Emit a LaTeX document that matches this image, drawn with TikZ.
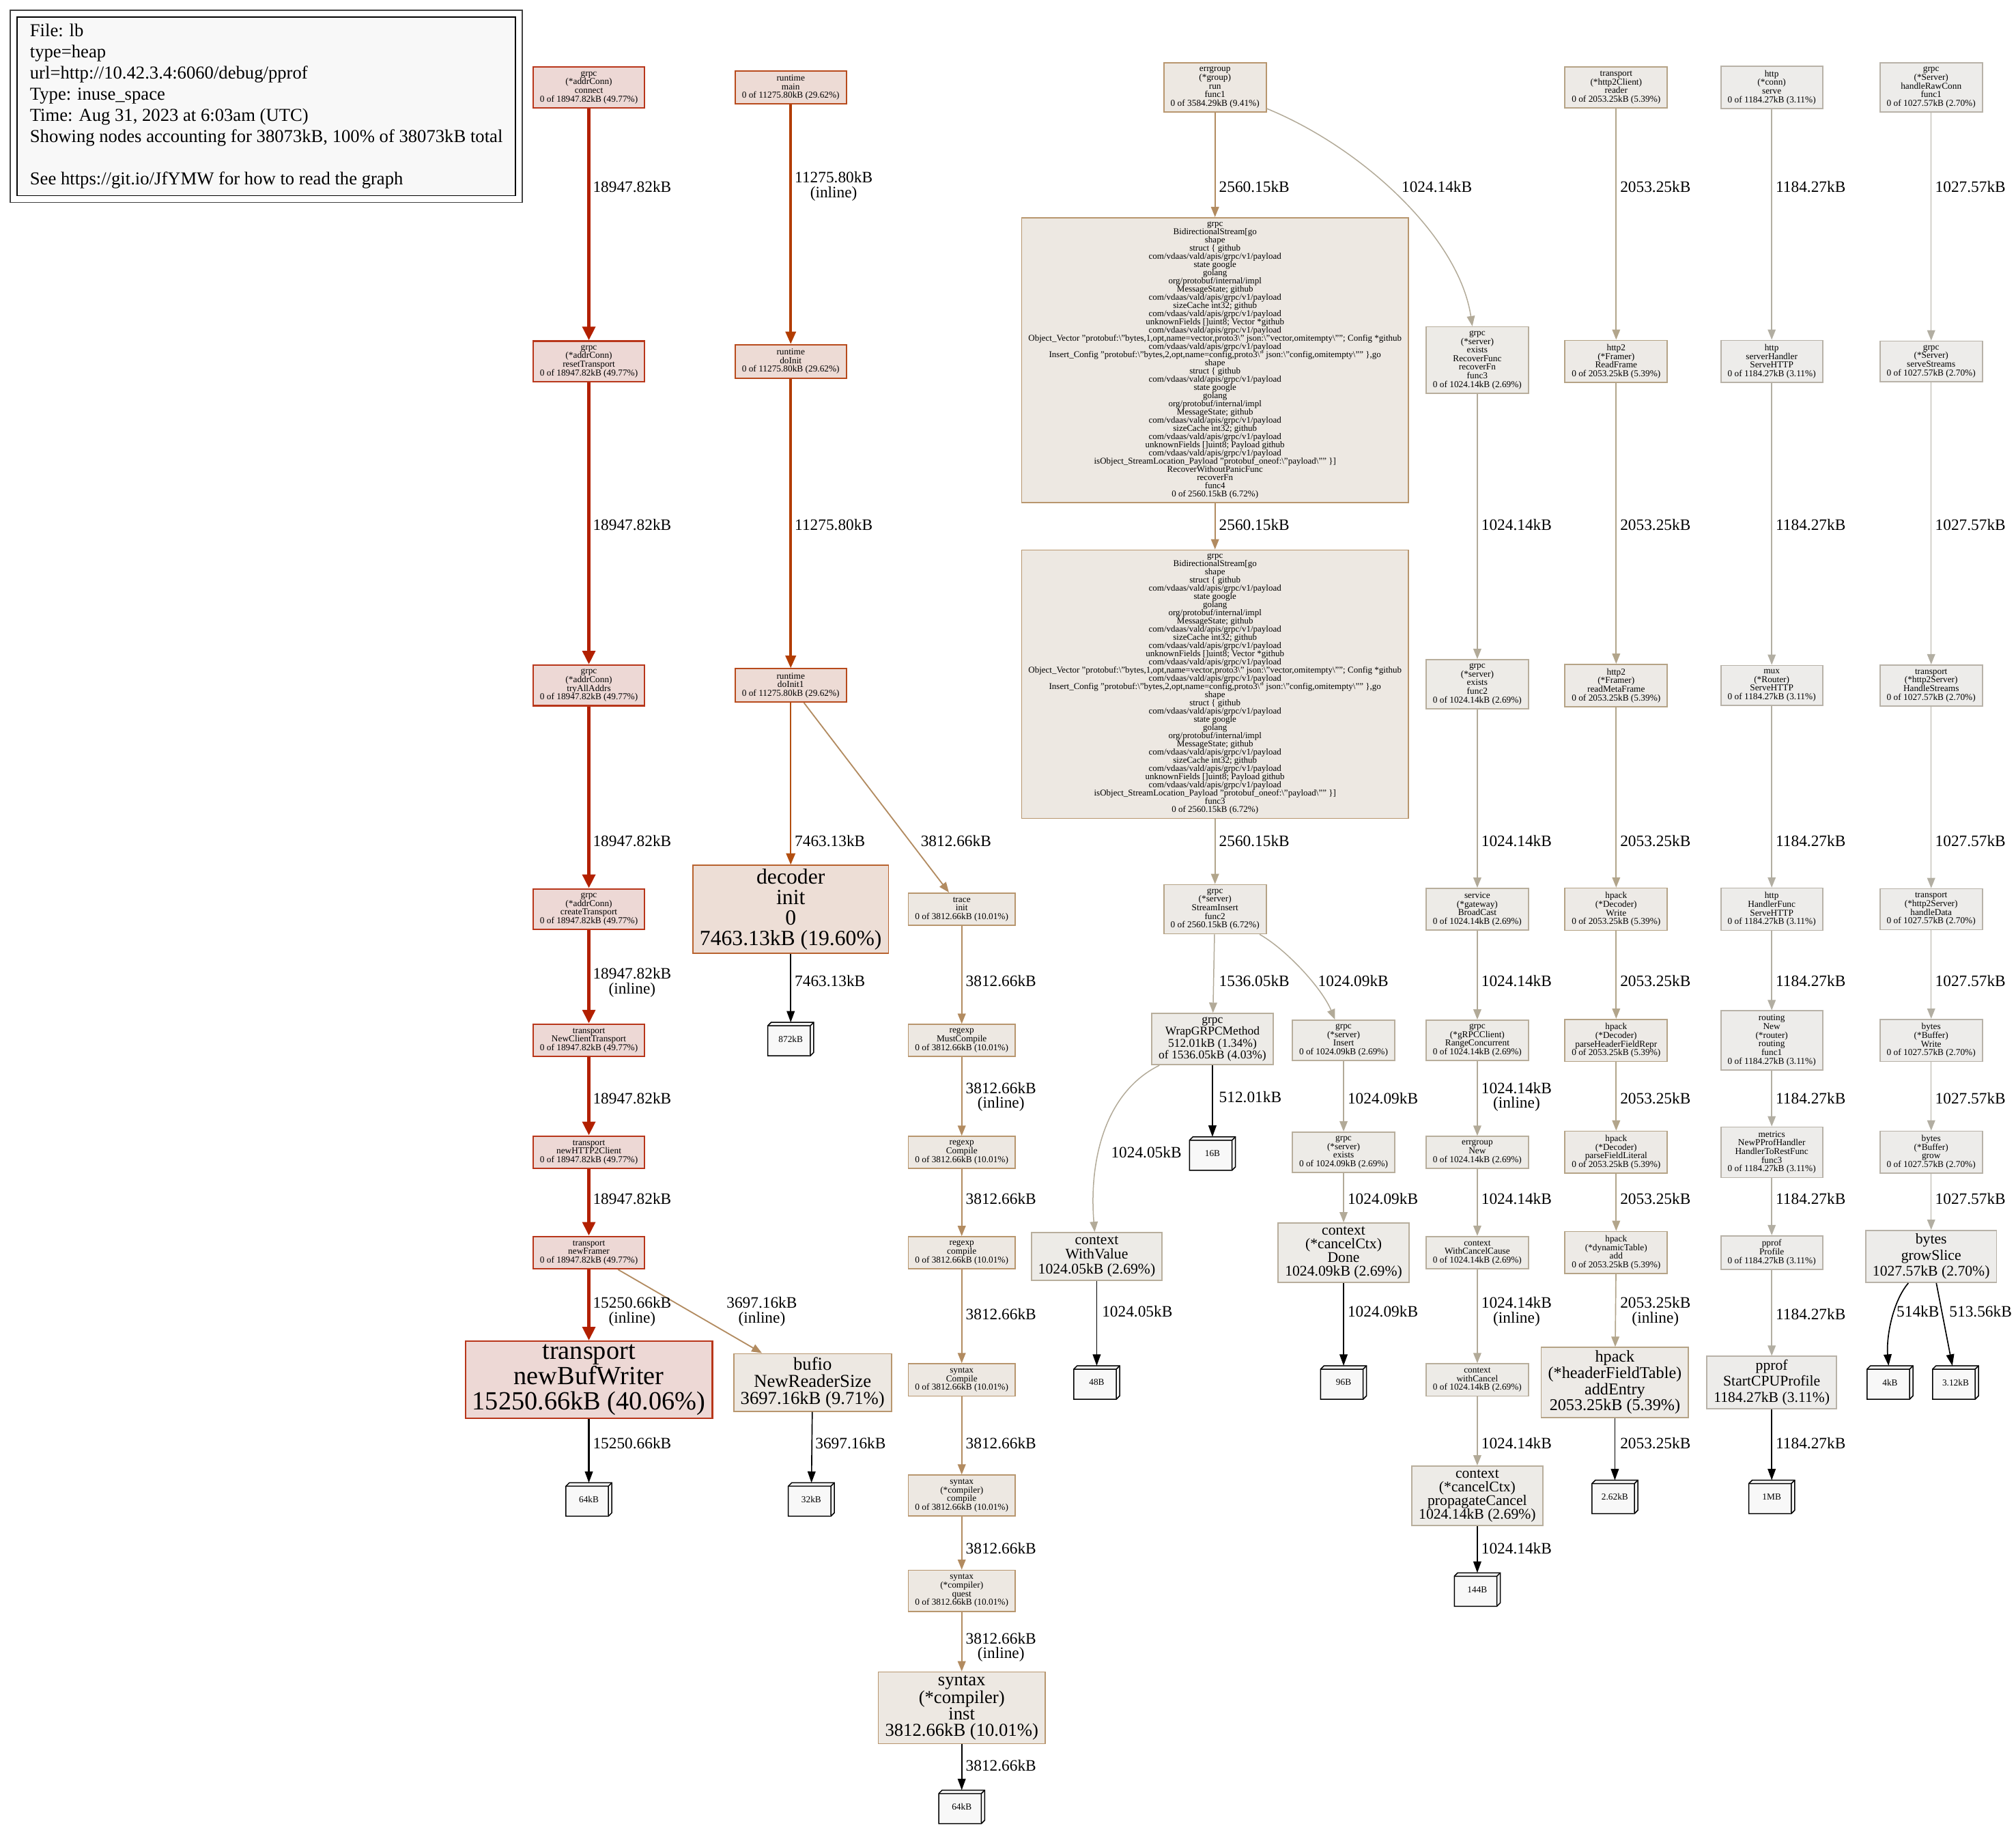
\documentclass[tikz,border=0pt]{standalone}
\usepackage{fontspec}
\setmainfont{Liberation Serif}
\usetikzlibrary{arrows.meta, backgrounds}

\definecolor{chotfill}{HTML}{EDD8D5}
\definecolor{chotline}{HTML}{B8361A}
\definecolor{chotedge}{HTML}{B22000}
\definecolor{cwarmfill}{HTML}{EDDBD5}
\definecolor{cwarmline}{HTML}{B84A1C}
\definecolor{cwarmedge}{HTML}{B23C00}
\definecolor{cdecfill}{HTML}{EDDED6}
\definecolor{cdecline}{HTML}{B8622E}
\definecolor{cdecedge}{HTML}{B24E10}
\definecolor{ctanfill}{HTML}{EDE8E2}
\definecolor{ctanline}{HTML}{B8966E}
\definecolor{ctanedge}{HTML}{B28B60}
\definecolor{cmidfill}{HTML}{EDEAE6}
\definecolor{cmidline}{HTML}{B5A386}
\definecolor{cmidedge}{HTML}{B2A58B}
\definecolor{cashfill}{HTML}{EDEBE7}
\definecolor{cashline}{HTML}{B8AE9C}
\definecolor{cashedge}{HTML}{B2AA98}
\definecolor{cpalefill}{HTML}{EDECEA}
\definecolor{cpaleline}{HTML}{B8B2A8}
\definecolor{cpaleedge}{HTML}{B2AEA2}
\definecolor{cblock}{HTML}{F8F8F8}

% shared payload type text of the two BidirectionalStream frames
\newcommand{\bidirtype}{shape\\struct \{ github\\com/vdaas/vald/apis/grpc/v1/payload\\state google\\golang\\org/protobuf/internal/impl\\MessageState; github\\com/vdaas/vald/apis/grpc/v1/payload\\sizeCache int32; github\\com/vdaas/vald/apis/grpc/v1/payload\\unknownFields []uint8; Vector *github\\com/vdaas/vald/apis/grpc/v1/payload\\Object\_Vector "protobuf:\textbackslash"bytes,1,opt,name=vector,proto3\textbackslash" json:\textbackslash"vector,omitempty\textbackslash""; Config *github\\com/vdaas/vald/apis/grpc/v1/payload\\Insert\_Config "protobuf:\textbackslash"bytes,2,opt,name=config,proto3\textbackslash" json:\textbackslash"config,omitempty\textbackslash"" \},go\\shape\\struct \{ github\\com/vdaas/vald/apis/grpc/v1/payload\\state google\\golang\\org/protobuf/internal/impl\\MessageState; github\\com/vdaas/vald/apis/grpc/v1/payload\\sizeCache int32; github\\com/vdaas/vald/apis/grpc/v1/payload\\unknownFields []uint8; Payload github\\com/vdaas/vald/apis/grpc/v1/payload\\isObject\_StreamLocation\_Payload "protobuf\_oneof:\textbackslash"payload\textbackslash"" \}]}

% 3d memory block: name, position, size text
\newcommand{\memblk}[3]{%
  \node[memblk] (#1) at (#2) {#3};
  \begin{pgfonlayer}{background}
    \filldraw[memface] (#1.south west) -- ([yshift=-3pt]#1.north west) -- ([xshift=3pt]#1.north west)
      -- (#1.north east) -- ([yshift=3pt]#1.south east) -- ([xshift=-3pt]#1.south east) -- cycle;
    \draw[memface] ([yshift=-3pt]#1.north west) -- ([shift={(-3pt,-3pt)}]#1.north east)
      -- ([xshift=-3pt]#1.south east) ([shift={(-3pt,-3pt)}]#1.north east) -- (#1.north east);
  \end{pgfonlayer}}

\begin{document}
\begin{tikzpicture}[
  x=1.13pt, y=-1.13pt,
  fn/.style={rectangle, draw, line width=1pt, align=center, inner xsep=6pt, inner ysep=3.5pt,
    font=\fontsize{8}{7.6}\selectfont},
  hot/.style={fn, draw=chotline, fill=chotfill, line width=1.3pt},
  warm/.style={fn, draw=cwarmline, fill=cwarmfill, line width=1.2pt},
  tan/.style={fn, draw=ctanline, fill=ctanfill},
  mid/.style={fn, draw=cmidline, fill=cmidfill},
  ash/.style={fn, draw=cashline, fill=cashfill},
  pale/.style={fn, draw=cpaleline, fill=cpalefill},
  bigtxt/.style 2 args={font=\fontsize{#1}{#2}\selectfont, inner xsep=6pt, inner ysep=3pt},
  memblk/.style={rectangle, minimum width=40pt, minimum height=29pt, inner sep=0pt,
    font=\fontsize{8}{9}\selectfont},
  memface/.style={draw=black, fill=cblock, line width=0.9pt, line join=miter},
  legend/.style={anchor=north west, draw, fill=cblock, align=left, line width=0.8pt,
    minimum width=438pt, minimum height=157pt, inner xsep=7pt,
    font=\fontsize{16}{18.6}\selectfont},
  hotedge/.style={-{Triangle[length=12pt, width=11pt]}, draw=chotedge, line width=3.4pt},
  warmedge/.style={-{Triangle[length=11pt, width=9pt]}, draw=cwarmedge, line width=2.2pt},
  decedge/.style={-{Triangle[length=10pt, width=8pt]}, draw=cdecedge, line width=1.5pt},
  tanedge/.style={-{Triangle[length=9pt, width=7pt]}, draw=ctanedge, line width=1.1pt},
  midedge/.style={-{Triangle[length=9pt, width=7pt]}, draw=cmidedge, line width=1pt},
  ashedge/.style={-{Triangle[length=9pt, width=7pt]}, draw=cashedge, line width=0.9pt},
  paleedge/.style={-{Triangle[length=9pt, width=7pt]}, draw=cpaleedge, line width=0.9pt},
  blkedge/.style={-{Triangle[length=10pt, width=7pt]}, draw=black, line width=1pt},
  elabel/.style={anchor=west, align=center, inner sep=0pt, font=\fontsize{14}{13}\selectfont}
]
\useasboundingbox (0,0) rectangle (1568,1421);

% ============================================================
% Legend
\node[legend] (legend) at (13,13) {File: lb\\type=heap\\url=http://10.42.3.4:6060/debug/pprof\\Type: inuse\_space\\Time: Aug 31, 2023 at 6:03am (UTC)\\Showing nodes accounting for 38073kB, 100\% of 38073kB total\\[18.6pt]See https://git.io/JfYMW for how to read the graph};
\draw[line width=0.8pt, draw=black!75] ([shift={(-5.6pt,5.6pt)}]legend.north west) rectangle ([shift={(5.6pt,-5.6pt)}]legend.south east);

% ============================================================
% grpc addrConn -> transport writer
\node[hot] (ac1) at (458,68) {grpc\\(*addrConn)\\connect\\0 of 18947.82kB (49.77\%)};
\node[hot] (ac2) at (458,281) {grpc\\(*addrConn)\\resetTransport\\0 of 18947.82kB (49.77\%)};
\node[hot] (ac3) at (458,533) {grpc\\(*addrConn)\\tryAllAddrs\\0 of 18947.82kB (49.77\%)};
\node[hot] (ac4) at (458,707) {grpc\\(*addrConn)\\createTransport\\0 of 18947.82kB (49.77\%)};
\node[hot] (tr1) at (458,809) {transport\\NewClientTransport\\0 of 18947.82kB (49.77\%)};
\node[hot] (tr2) at (458,896) {transport\\newHTTP2Client\\0 of 18947.82kB (49.77\%)};
\node[hot] (tr3) at (458,974) {transport\\newFramer\\0 of 18947.82kB (49.77\%)};
\node[hot, bigtxt={23}{22}] (bufw) at (458,1073) {transport\\newBufWriter\\15250.66kB (40.06\%)};
\memblk{m64a}{458,1166}{64kB}

% runtime init
\node[warm] (rt1) at (615,68) {runtime\\main\\0 of 11275.80kB (29.62\%)};
\node[warm] (rt2) at (615,281) {runtime\\doInit\\0 of 11275.80kB (29.62\%)};
\node[warm] (rt3) at (615,533) {runtime\\doInit1\\0 of 11275.80kB (29.62\%)};
\node[fn, draw=cdecline, fill=cdecfill, bigtxt={19}{18}] (dec) at (615,707) {decoder\\init\\0\\7463.13kB (19.60\%)};
\memblk{m872}{615,808}{872kB}
\node[tan, bigtxt={16}{15}] (bufio) at (632,1075) {bufio\\NewReaderSize\\3697.16kB (9.71\%)};
\memblk{m32}{631,1166}{32kB}

% regexp / syntax
\node[tan] (trc) at (748,707) {trace\\init\\0 of 3812.66kB (10.01\%)};
\node[tan] (re1) at (748,809) {regexp\\MustCompile\\0 of 3812.66kB (10.01\%)};
\node[tan] (re2) at (748,896) {regexp\\Compile\\0 of 3812.66kB (10.01\%)};
\node[tan] (re3) at (748,974) {regexp\\compile\\0 of 3812.66kB (10.01\%)};
\node[tan] (sx1) at (748,1073) {syntax\\Compile\\0 of 3812.66kB (10.01\%)};
\node[tan] (sx2) at (748,1163) {syntax\\(*compiler)\\compile\\0 of 3812.66kB (10.01\%)};
\node[tan] (sx3) at (748,1237) {syntax\\(*compiler)\\quest\\0 of 3812.66kB (10.01\%)};
\node[tan, bigtxt={16}{14.5}] (sx4) at (748,1328) {syntax\\(*compiler)\\inst\\3812.66kB (10.01\%)};
\memblk{m64b}{748,1405}{64kB}

% errgroup / BidirectionalStream
\node[tan] (eg) at (945,68) {errgroup\\(*group)\\run\\func1\\0 of 3584.29kB (9.41\%)};
\node[tan, font=\fontsize{7.8}{7.2}\selectfont, minimum width=340pt] (bd4) at (945,280) {grpc\\BidirectionalStream[go\\\bidirtype\\RecoverWithoutPanicFunc\\recoverFn\\func4\\0 of 2560.15kB (6.72\%)};
\node[tan, font=\fontsize{7.8}{7.2}\selectfont, minimum width=340pt] (bd3) at (945,532) {grpc\\BidirectionalStream[go\\\bidirtype\\func3\\0 of 2560.15kB (6.72\%)};
\node[mid] (sins) at (945,707) {grpc\\(*server)\\StreamInsert\\func2\\0 of 2560.15kB (6.72\%)};
\node[ash, bigtxt={10.5}{10.5}] (wrap) at (943,808) {grpc\\WrapGRPCMethod\\512.01kB (1.34\%)\\of 1536.05kB (4.03\%)};
\memblk{m16}{943,897}{16B}
\node[ash, bigtxt={13}{13}] (wval) at (853,977) {context\\WithValue\\1024.05kB (2.69\%)};
\memblk{m48}{853,1075}{48B}

% server insert
\node[ash] (ins) at (1045,809) {grpc\\(*server)\\Insert\\0 of 1024.09kB (2.69\%)};
\node[ash] (sex) at (1045,896) {grpc\\(*server)\\exists\\0 of 1024.09kB (2.69\%)};
\node[ash, bigtxt={13}{12}] (done) at (1045,974) {context\\(*cancelCtx)\\Done\\1024.09kB (2.69\%)};
\memblk{m96}{1045,1075}{96B}

% server exists / gateway
\node[ash] (rfn) at (1149,280) {grpc\\(*server)\\exists\\RecoverFunc\\recoverFn\\func3\\0 of 1024.14kB (2.69\%)};
\node[ash] (ex2) at (1149,532) {grpc\\(*server)\\exists\\func2\\0 of 1024.14kB (2.69\%)};
\node[ash] (gw) at (1149,707) {service\\(*gateway)\\BroadCast\\0 of 1024.14kB (2.69\%)};
\node[ash] (rc) at (1149,809) {grpc\\(*gRPCClient)\\RangeConcurrent\\0 of 1024.14kB (2.69\%)};
\node[ash] (egn) at (1149,896) {errgroup\\New\\0 of 1024.14kB (2.69\%)};
\node[ash] (wcc) at (1149,974) {context\\WithCancelCause\\0 of 1024.14kB (2.69\%)};
\node[ash] (wc) at (1149,1073) {context\\withCancel\\0 of 1024.14kB (2.69\%)};
\node[ash, bigtxt={13}{12}] (pc) at (1149,1163) {context\\(*cancelCtx)\\propagateCancel\\1024.14kB (2.69\%)};
\memblk{m144}{1149,1236}{144B}

% http2 client reader / hpack
\node[mid] (h2r) at (1257,68) {transport\\(*http2Client)\\reader\\0 of 2053.25kB (5.39\%)};
\node[mid] (fr1) at (1257,281) {http2\\(*Framer)\\ReadFrame\\0 of 2053.25kB (5.39\%)};
\node[mid] (fr2) at (1257,533) {http2\\(*Framer)\\readMetaFrame\\0 of 2053.25kB (5.39\%)};
\node[mid] (hp1) at (1257,707) {hpack\\(*Decoder)\\Write\\0 of 2053.25kB (5.39\%)};
\node[mid] (hp2) at (1257,809) {hpack\\(*Decoder)\\parseHeaderFieldRepr\\0 of 2053.25kB (5.39\%)};
\node[mid] (hp3) at (1257,896) {hpack\\(*Decoder)\\parseFieldLiteral\\0 of 2053.25kB (5.39\%)};
\node[mid] (hp4) at (1257,974) {hpack\\(*dynamicTable)\\add\\0 of 2053.25kB (5.39\%)};
\node[mid, bigtxt={14.5}{13}] (hp5) at (1256,1075) {hpack\\(*headerFieldTable)\\addEntry\\2053.25kB (5.39\%)};
\memblk{m262}{1256,1164}{2.62kB}

% http serve / pprof
\node[pale] (hc) at (1378,68) {http\\(*conn)\\serve\\0 of 1184.27kB (3.11\%)};
\node[pale] (sh) at (1378,281) {http\\serverHandler\\ServeHTTP\\0 of 1184.27kB (3.11\%)};
\node[pale] (mux) at (1378,533) {mux\\(*Router)\\ServeHTTP\\0 of 1184.27kB (3.11\%)};
\node[pale] (hf) at (1378,707) {http\\HandlerFunc\\ServeHTTP\\0 of 1184.27kB (3.11\%)};
\node[pale] (rtg) at (1378,809) {routing\\New\\(*router)\\routing\\func1\\0 of 1184.27kB (3.11\%)};
\node[pale] (met) at (1378,896) {metrics\\NewPProfHandler\\HandlerToRestFunc\\func3\\0 of 1184.27kB (3.11\%)};
\node[pale] (pp1) at (1378,974) {pprof\\Profile\\0 of 1184.27kB (3.11\%)};
\node[pale, bigtxt={13}{14}] (pp2) at (1378,1075) {pprof\\StartCPUProfile\\1184.27kB (3.11\%)};
\memblk{m1mb}{1378,1164}{1MB}

% grpc Server streams / bytes
\node[pale] (srv) at (1502,68) {grpc\\(*Server)\\handleRawConn\\func1\\0 of 1027.57kB (2.70\%)};
\node[pale] (ss) at (1502,281) {grpc\\(*Server)\\serveStreams\\0 of 1027.57kB (2.70\%)};
\node[pale] (hs) at (1502,533) {transport\\(*http2Server)\\HandleStreams\\0 of 1027.57kB (2.70\%)};
\node[pale] (hd) at (1502,707) {transport\\(*http2Server)\\handleData\\0 of 1027.57kB (2.70\%)};
\node[pale] (bw) at (1502,809) {bytes\\(*Buffer)\\Write\\0 of 1027.57kB (2.70\%)};
\node[pale] (bg) at (1502,896) {bytes\\(*Buffer)\\grow\\0 of 1027.57kB (2.70\%)};
\node[pale, bigtxt={13}{14}] (gs) at (1502,977) {bytes\\growSlice\\1027.57kB (2.70\%)};
\memblk{m4k}{1470,1075}{4kB}
\memblk{m312}{1521,1075}{3.12kB}

% ============================================================
% Edges
\foreach \a/\b in {ac1/ac2, ac2/ac3, ac3/ac4, ac4/tr1, tr1/tr2, tr2/tr3, tr3/bufw}
  \draw[hotedge] (\a) -- (\b);
\draw[tanedge] (tr3) -- (bufio);
\draw[blkedge, line width=1.3pt] (bufw) -- (m64a);
\draw[blkedge] (bufio) -- (m32);

\draw[warmedge] (rt1) -- (rt2);
\draw[warmedge] (rt2) -- (rt3);
\draw[decedge] (rt3) -- (dec);
\draw[tanedge] (rt3) -- (trc);
\draw[blkedge, line width=1.2pt] (dec) -- (m872);

\foreach \a/\b in {trc/re1, re1/re2, re2/re3, re3/sx1, sx1/sx2, sx2/sx3, sx3/sx4}
  \draw[tanedge] (\a) -- (\b);
\draw[blkedge] (sx4) -- (m64b);

\draw[tanedge] (eg) -- (bd4);
\draw[tanedge] (bd4) -- (bd3);
\draw[midedge] (bd3) -- (sins);
\draw[ashedge] (eg) .. controls (1060,115) and (1135,185) .. (rfn);
\draw[ashedge] (sins) -- (wrap);
\draw[ashedge] (sins) .. controls (1000,738) and (1028,768) .. (ins);
\draw[blkedge] (wrap) -- (m16);
\draw[ashedge] (wrap) .. controls (858,850) and (847,905) .. (wval);
\draw[blkedge] (wval) -- (m48);

\draw[ashedge] (ins) -- (sex);
\draw[ashedge] (sex) -- (done);
\draw[blkedge] (done) -- (m96);

\foreach \a/\b in {rfn/ex2, ex2/gw, gw/rc, rc/egn, egn/wcc, wcc/wc, wc/pc}
  \draw[ashedge] (\a) -- (\b);
\draw[blkedge] (pc) -- (m144);

\foreach \a/\b in {h2r/fr1, fr1/fr2, fr2/hp1, hp1/hp2, hp2/hp3, hp3/hp4, hp4/hp5}
  \draw[midedge] (\a) -- (\b);
\draw[blkedge] (hp5) -- (m262);

\foreach \a/\b in {hc/sh, sh/mux, mux/hf, hf/rtg, rtg/met, met/pp1, pp1/pp2}
  \draw[paleedge] (\a) -- (\b);
\draw[blkedge] (pp2) -- (m1mb);

\foreach \a/\b in {srv/ss, ss/hs, hs/hd, hd/bw, bw/bg, bg/gs}
  \draw[paleedge] (\a) -- (\b);
\draw[blkedge] (gs) .. controls (1472,1012) and (1467,1040) .. (m4k);
\draw[blkedge] (gs) -- (m312);

% ============================================================
% Edge labels
\foreach \y/\t [count=\k] in {145/18947.82kB, 408/18947.82kB, 654/18947.82kB,
    764/{18947.82kB\\(inline)}, 854/18947.82kB, 932/18947.82kB,
    1020/{15250.66kB\\(inline)}, 1122/15250.66kB}
  \node[elabel] (la\k) at (461,\y) {\t};
\foreach \y/\t [count=\k] in {145/{11275.80kB\\(inline)}, 408/11275.80kB, 654/7463.13kB, 763/7463.13kB}
  \node[elabel] (lb\k) at (618,\y) {\t};
\node[elabel] (lbufa) at (565,1020) {3697.16kB\\(inline)};
\node[elabel] (lbufb) at (634,1122) {3697.16kB};
\node[elabel] (ltrc) at (716,654) {3812.66kB};
\foreach \y/\t [count=\k] in {763/3812.66kB, 853/{3812.66kB\\(inline)}, 932/3812.66kB,
    1022/3812.66kB, 1122/3812.66kB, 1204/3812.66kB, 1281/{3812.66kB\\(inline)}, 1373/3812.66kB}
  \node[elabel] (lc\k) at (751,\y) {\t};
\foreach \y/\t [count=\k] in {145/2560.15kB, 408/2560.15kB, 654/2560.15kB, 763/1536.05kB, 853/512.01kB}
  \node[elabel] (ld\k) at (948,\y) {\t};
\node[elabel] (lrfn) at (1090,145) {1024.14kB};
\node[elabel] (lins) at (1025,763) {1024.09kB};
\node[elabel] (lwval) at (864,896) {1024.05kB};
\node[elabel] (lm48) at (857,1020) {1024.05kB};
\foreach \y [count=\k] in {854, 932, 1020}
  \node[elabel] (le\k) at (1048,\y) {1024.09kB};
\foreach \y/\t [count=\k] in {408/1024.14kB, 654/1024.14kB, 763/1024.14kB, 853/{1024.14kB\\(inline)},
    932/1024.14kB, 1020/{1024.14kB\\(inline)}, 1122/1024.14kB, 1204/1024.14kB}
  \node[elabel] (lf\k) at (1152,\y) {\t};
\foreach \y/\t [count=\k] in {145/2053.25kB, 408/2053.25kB, 654/2053.25kB, 763/2053.25kB,
    854/2053.25kB, 932/2053.25kB, 1020/{2053.25kB\\(inline)}, 1122/2053.25kB}
  \node[elabel] (lg\k) at (1260,\y) {\t};
\foreach \y [count=\k] in {145, 408, 654, 763, 854, 932, 1022, 1122}
  \node[elabel] (lh\k) at (1381,\y) {1184.27kB};
\foreach \y [count=\k] in {145, 408, 654, 763, 854, 932}
  \node[elabel] (li\k) at (1505,\y) {1027.57kB};
\node[elabel] (l4k) at (1475,1020) {514kB};
\node[elabel] (l312) at (1516,1020) {513.56kB};

\end{tikzpicture}
\end{document}
